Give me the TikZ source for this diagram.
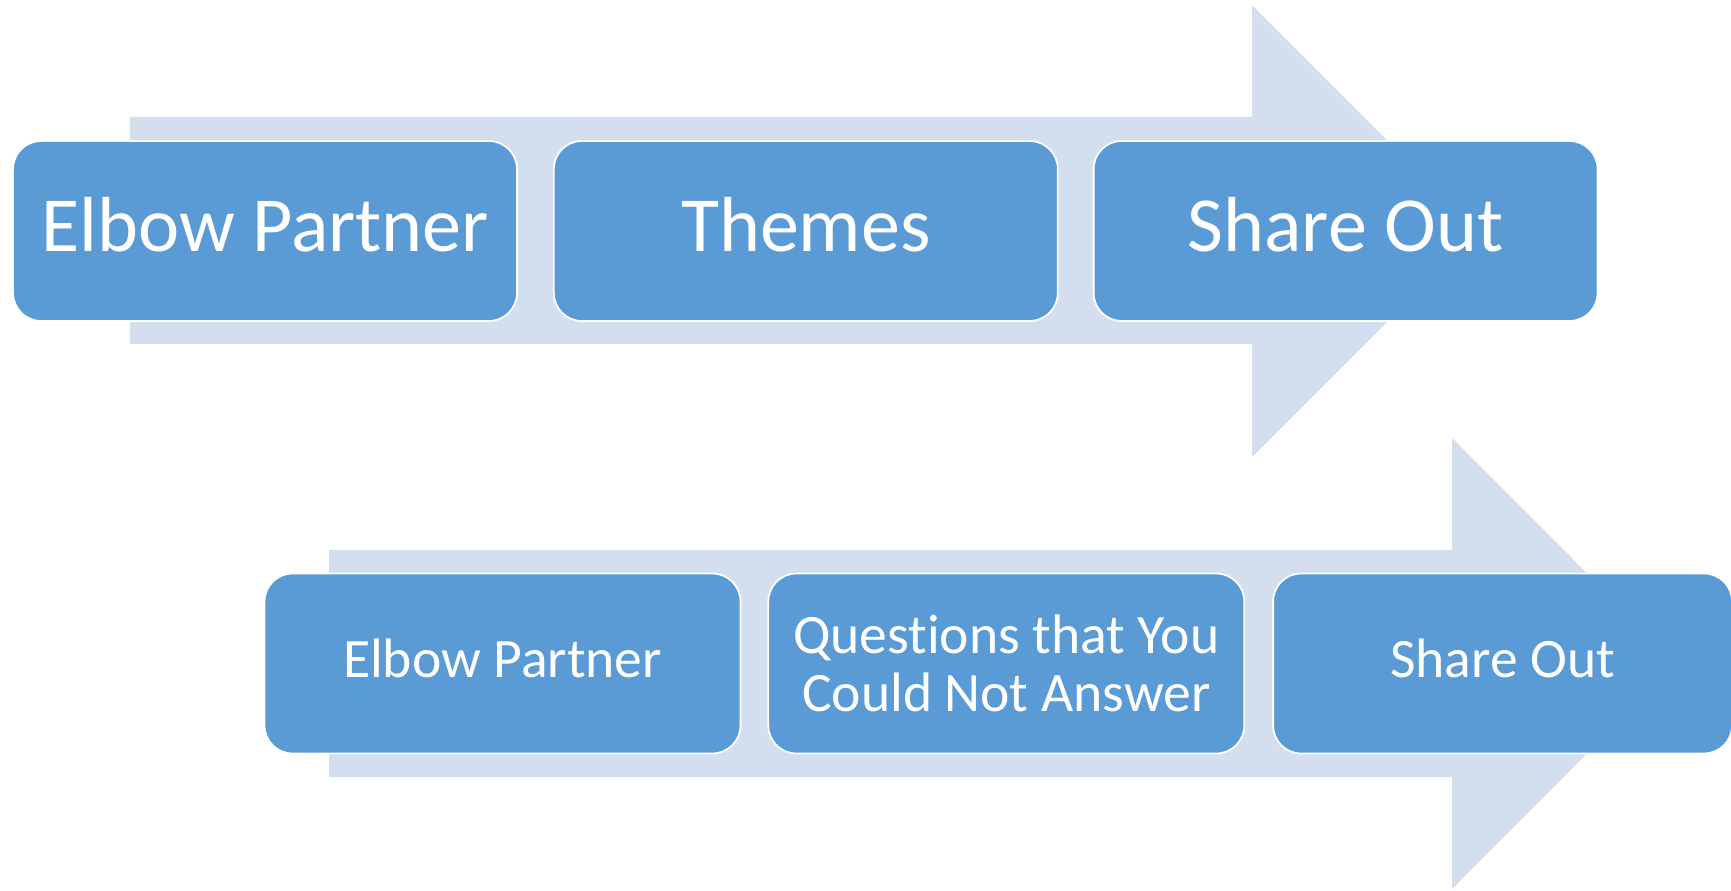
\documentclass[tikz,border=0pt]{standalone}
\usepackage{fontspec}
\setmainfont{Carlito}[Ligatures=NoCommon]
\usetikzlibrary{positioning}
\definecolor{boxblue}{HTML}{5B9BD5}
\definecolor{arrowblue}{HTML}{D3DEEF}
\tikzset{
  stage/.style={draw=white, line width=0.9pt, fill=boxblue, rounded corners=14pt,
    text=white, minimum height=90pt, inner sep=0pt, align=center},
  bigstage/.style={stage, minimum width=252pt, text height=30pt, text depth=9.3pt,
    font=\fontsize{39}{42}\selectfont},
  smallstage/.style={stage, minimum width=238pt,
    font=\fontsize{27.8}{29.3}\selectfont},
  oneline/.style={text height=21pt, text depth=7pt},
}

\begin{document}
\begin{tikzpicture}[x=0.5pt, y=0.5pt]
  \useasboundingbox (0,0) rectangle (1731,890);

  % background arrows
  \fill [arrowblue] (130,546) -- (1252,546) -- (1252,433) -- (1478,659)
    -- (1252,884.5) -- (1252,773) -- (130,773) -- cycle;%
  \fill [arrowblue] (329,113) -- (1452,113) -- (1452,1) -- (1677,226.5)
    -- (1452,452) -- (1452,340) -- (329,340) -- cycle;%

  % first row
  \node [bigstage] (elbowA) at (265,659) {Elbow Partner};%
  \node [bigstage, right=17.5pt of elbowA] (themes) {Themes};%
  \node [bigstage, right=17pt of themes] (shareA) {Share Out};%

  % second row
  \node [smallstage, oneline] (elbowB) at (502.5,226.5) {Elbow Partner};%
  \node [smallstage, right=13pt of elbowB, yshift=0pt] (questions)
    {Questions that You\\Could Not Answer};%
  \node [smallstage, oneline, minimum width=229.5pt, right=13.5pt of questions]
    (shareB) {Share Out};%
\end{tikzpicture}
\end{document}
